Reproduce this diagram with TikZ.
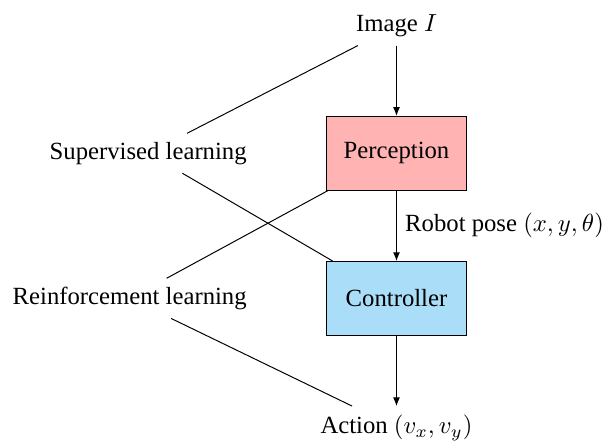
\documentclass[tikz,border=0pt]{standalone}
\usepackage{fontspec}
\setmainfont{Liberation Serif}
\usepackage{amsmath}
\usepackage{tikz}
\usetikzlibrary{positioning,arrows.meta}

\definecolor{percred}{RGB}{255,179,179}
\definecolor{ctrlblue}{RGB}{170,221,248}

\begin{document}
\begin{tikzpicture}[
  node distance=1cm,
  block/.style={draw, minimum width=2cm, minimum height=1.05cm},
  flow/.style={-{Latex[length=3.5pt,width=2.8pt]}},
]
\useasboundingbox (-5.64,2.18) rectangle (2.98,-4.10);

% Pipeline
\node[block, fill=percred] (perc) at (0,0) {Perception};
\node[above=of perc] (img) {Image $I$};
\node[block, fill=ctrlblue, below=of perc] (ctrl) {Controller};
\node[below=of ctrl] (act) {Action $(v_x, v_y)$};

% Learning labels
\node[left=of perc] (sup) {Supervised learning};
\node[left=of ctrl] (reinf) {Reinforcement learning};

% Arrows
\draw[flow] (img) -- (perc);
\draw[flow] (perc) -- node[right] {Robot pose $(x, y, \theta)$} (ctrl);
\draw[flow] (ctrl) -- (act);

% Lines to the parts each method trains
\draw (sup) -- (img);
\draw (sup) -- (ctrl);
\draw (reinf) -- (perc);
\draw (reinf) -- (act);

\end{tikzpicture}
\end{document}
